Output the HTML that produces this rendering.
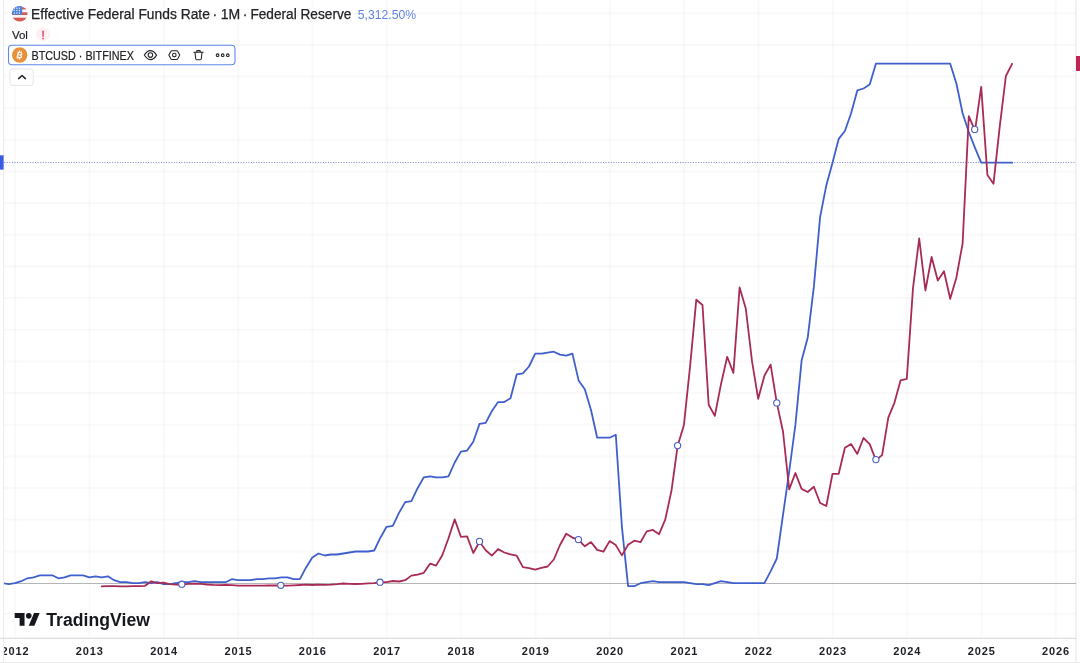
<!DOCTYPE html>
<html><head><meta charset="utf-8"><title>chart</title>
<style>
html,body{margin:0;padding:0;background:#fff;}
body{width:1080px;height:663px;overflow:hidden;position:relative;font-family:"Liberation Sans",sans-serif;color:#131722;}
svg{position:absolute;left:0;top:0;}
.t{position:absolute;white-space:nowrap;}
</style></head><body>
<svg width="1080" height="663" viewBox="0 0 1080 663">
<defs><clipPath id="pc"><rect x="4.1" y="0" width="1071.4" height="663"/></clipPath></defs>
<g stroke="#000" stroke-opacity="0.024" stroke-width="2"><line x1="15.3" y1="0" x2="15.3" y2="638"/><line x1="89.6" y1="0" x2="89.6" y2="638"/><line x1="163.9" y1="0" x2="163.9" y2="638"/><line x1="238.3" y1="0" x2="238.3" y2="638"/><line x1="312.6" y1="0" x2="312.6" y2="638"/><line x1="386.9" y1="0" x2="386.9" y2="638"/><line x1="461.2" y1="0" x2="461.2" y2="638"/><line x1="535.5" y1="0" x2="535.5" y2="638"/><line x1="609.9" y1="0" x2="609.9" y2="638"/><line x1="684.2" y1="0" x2="684.2" y2="638"/><line x1="758.5" y1="0" x2="758.5" y2="638"/><line x1="832.8" y1="0" x2="832.8" y2="638"/><line x1="907.1" y1="0" x2="907.1" y2="638"/><line x1="981.5" y1="0" x2="981.5" y2="638"/><line x1="1055.8" y1="0" x2="1055.8" y2="638"/><line x1="4" y1="13.2" x2="1076" y2="13.2"/><line x1="4" y1="44.9" x2="1076" y2="44.9"/><line x1="4" y1="76.5" x2="1076" y2="76.5"/><line x1="4" y1="108.2" x2="1076" y2="108.2"/><line x1="4" y1="139.8" x2="1076" y2="139.8"/><line x1="4" y1="171.5" x2="1076" y2="171.5"/><line x1="4" y1="203.2" x2="1076" y2="203.2"/><line x1="4" y1="234.8" x2="1076" y2="234.8"/><line x1="4" y1="266.5" x2="1076" y2="266.5"/><line x1="4" y1="298.1" x2="1076" y2="298.1"/><line x1="4" y1="329.8" x2="1076" y2="329.8"/><line x1="4" y1="361.5" x2="1076" y2="361.5"/><line x1="4" y1="393.1" x2="1076" y2="393.1"/><line x1="4" y1="424.8" x2="1076" y2="424.8"/><line x1="4" y1="456.4" x2="1076" y2="456.4"/><line x1="4" y1="488.1" x2="1076" y2="488.1"/><line x1="4" y1="519.8" x2="1076" y2="519.8"/><line x1="4" y1="551.4" x2="1076" y2="551.4"/><line x1="4" y1="613.7" x2="1076" y2="613.7"/></g>
<line x1="3.6" y1="0" x2="3.6" y2="663" stroke="#ebebee" stroke-width="1"/>
<line x1="1075.9" y1="0" x2="1075.9" y2="663" stroke="#ededf0" stroke-width="1.4"/>
<line x1="0" y1="638.4" x2="1076" y2="638.4" stroke="#dedee0" stroke-width="1.1"/>
<rect x="0" y="662" width="1080" height="1" fill="#ececee"/>
<line x1="4" y1="583.5" x2="1076" y2="583.5" stroke="#b4b5ba" stroke-width="1"/>
<line x1="4.2" y1="162.5" x2="1076" y2="162.5" stroke="#5a66c8" stroke-opacity="0.8" stroke-width="1" stroke-dasharray="1 1.57"/>
<rect x="0" y="155.3" width="3.6" height="14.3" fill="#3a5ce2"/>
<rect x="1076" y="56" width="4" height="15" fill="#bb2657"/>
<g clip-path="url(#pc)"><polyline fill="none" stroke="#3f60cc" stroke-width="1.8" stroke-linejoin="round" stroke-linecap="round" points="2.6,583.2 8.8,584.2 15.0,583.2 21.2,581.2 27.4,578.3 33.6,577.3 39.8,575.3 46.0,575.3 52.2,575.3 58.4,578.3 64.5,577.3 70.7,575.3 76.9,575.3 83.1,575.3 89.3,577.3 95.5,576.3 101.7,577.3 107.9,576.3 114.1,580.2 120.3,582.2 126.5,582.2 132.7,583.2 138.9,583.2 145.1,582.2 151.3,583.2 157.4,582.2 163.6,584.2 169.8,584.2 176.0,583.2 182.2,582.2 188.4,582.2 194.6,581.2 200.8,582.2 207.0,582.2 213.2,582.2 219.4,582.2 225.6,582.2 231.8,579.2 238.0,580.2 244.2,580.2 250.3,580.2 256.5,579.2 262.7,579.2 268.9,578.3 275.1,578.3 281.3,577.3 287.5,577.3 293.7,579.2 299.9,579.2 306.1,567.4 312.3,557.5 318.5,553.5 324.7,555.5 330.9,554.5 337.1,554.5 343.2,553.5 349.4,552.5 355.6,551.5 361.8,551.5 368.0,551.5 374.2,550.5 380.4,537.7 386.6,526.8 392.8,525.8 399.0,512.9 405.2,502.1 411.4,501.1 417.6,488.2 423.8,477.3 430.0,476.3 436.1,477.3 442.3,477.3 448.5,476.3 454.7,462.5 460.9,451.6 467.1,450.6 473.3,441.7 479.5,423.9 485.7,422.9 491.9,411.0 498.1,402.1 504.3,402.1 510.5,398.2 516.7,374.4 522.9,373.4 529.0,366.5 535.2,353.6 541.4,353.6 547.6,352.6 553.8,351.7 560.0,354.6 566.2,355.6 572.4,353.6 578.6,380.4 584.8,389.3 591.0,410.0 597.2,437.7 603.4,437.7 609.6,437.7 615.8,434.8 621.9,526.8 628.1,586.2 634.3,586.2 640.5,583.2 646.7,582.2 652.9,581.2 659.1,582.2 665.3,582.2 671.5,582.2 677.7,582.2 683.9,582.2 690.1,583.2 696.3,584.2 702.5,584.2 708.7,585.2 714.8,583.2 721.0,581.2 727.2,582.2 733.4,583.2 739.6,583.2 745.8,583.2 752.0,583.2 758.2,583.2 764.4,583.2 770.6,571.3 776.8,558.5 783.0,514.9 789.2,471.4 795.4,424.9 801.6,360.6 807.7,337.8 813.9,286.4 820.1,217.1 826.3,185.4 832.5,162.7 838.7,138.9 844.9,131.0 851.1,113.2 857.3,90.4 863.5,88.5 869.7,84.5 875.9,63.7 882.1,63.7 888.3,63.7 894.5,63.7 900.6,63.7 906.8,63.7 913.0,63.7 919.2,63.7 925.4,63.7 931.6,63.7 937.8,63.7 944.0,63.7 950.2,63.7 956.4,83.5 962.6,113.2 968.8,132.0 975.0,147.8 981.2,162.7 987.4,162.7 993.5,162.7 999.7,162.7 1005.9,162.7 1012.1,162.7"/>
<polyline fill="none" stroke="#a82b56" stroke-width="1.8" stroke-linejoin="round" stroke-linecap="round" points="101.7,586.3 107.9,586.1 114.1,586.2 120.3,586.3 126.5,586.3 132.7,586.2 138.9,586.2 145.1,585.8 151.3,581.3 157.4,583.2 163.6,582.7 169.8,584.1 176.0,584.6 182.2,584.6 188.4,583.8 194.6,583.7 200.8,583.9 207.0,584.5 213.2,584.9 219.4,585.1 225.6,585.0 231.8,585.2 238.0,585.7 244.2,585.6 250.3,585.6 256.5,585.6 262.7,585.7 268.9,585.5 275.1,585.4 281.3,585.7 287.5,585.6 293.7,585.3 299.9,585.0 306.1,584.7 312.3,585.0 318.5,584.7 324.7,584.8 330.9,584.6 337.1,584.2 343.2,583.5 349.4,583.8 355.6,584.0 361.8,583.8 368.0,583.4 374.2,583.2 380.4,582.1 386.6,582.1 392.8,581.0 399.0,581.5 405.2,580.2 411.4,575.6 417.6,574.7 423.8,572.8 430.0,563.7 436.1,565.6 442.3,555.3 448.5,538.2 454.7,519.4 460.9,536.8 467.1,536.4 473.3,553.0 479.5,541.7 485.7,550.2 491.9,555.6 498.1,549.1 504.3,552.5 510.5,554.4 516.7,555.7 522.9,567.1 529.0,568.1 535.2,569.7 541.4,567.8 547.6,566.5 553.8,559.5 560.0,545.0 566.2,533.8 572.4,537.6 578.6,539.9 584.8,546.3 591.0,542.1 597.2,549.9 603.4,551.7 609.6,541.1 615.8,545.1 621.9,555.4 628.1,544.7 634.3,540.7 640.5,542.2 646.7,531.4 652.9,529.9 659.1,534.2 665.3,519.4 671.5,490.6 677.7,445.4 683.9,425.2 690.1,366.1 696.3,299.7 702.5,305.0 708.7,404.7 714.8,415.9 721.0,384.1 727.2,356.8 733.4,372.9 739.6,287.5 745.8,308.5 752.0,361.2 758.2,398.8 764.4,375.8 770.6,364.6 776.8,402.9 783.0,431.5 789.2,489.4 795.4,473.0 801.6,488.9 807.7,492.0 813.9,486.7 820.1,503.0 826.3,506.0 832.5,473.9 838.7,473.8 844.9,447.8 851.1,444.1 857.3,453.9 863.5,438.0 869.7,444.1 875.9,460.1 882.1,455.1 888.3,417.6 894.5,402.6 900.6,380.3 906.8,378.9 913.0,288.1 919.2,238.5 925.4,290.5 931.6,257.0 937.8,280.6 944.0,271.2 950.2,298.8 956.4,277.5 962.6,243.6 968.8,116.1 975.0,130.7 981.2,86.8 987.4,174.9 993.5,183.7 999.7,126.8 1005.9,76.0 1012.1,63.8"/>
<g fill="#fff" stroke="#4a5cc4" stroke-width="1.1"><circle cx="181.8" cy="584.2" r="3.1"/><circle cx="280.8" cy="585.3" r="3.1"/><circle cx="380.0" cy="582.2" r="3.1"/><circle cx="479.5" cy="541.4" r="3.1"/><circle cx="578.4" cy="539.6" r="3.1"/><circle cx="677.6" cy="445.6" r="3.1"/><circle cx="776.8" cy="402.9" r="3.1"/><circle cx="875.9" cy="459.6" r="3.1"/><circle cx="974.7" cy="129.4" r="3.1"/></g>
<g font-family="Liberation Sans, sans-serif" font-size="11" font-weight="bold" fill="#1d1f25" letter-spacing="0.85"><text x="15.5" y="654.5" text-anchor="middle">2012</text><text x="89.8" y="654.5" text-anchor="middle">2013</text><text x="164.1" y="654.5" text-anchor="middle">2014</text><text x="238.5" y="654.5" text-anchor="middle">2015</text><text x="312.8" y="654.5" text-anchor="middle">2016</text><text x="387.1" y="654.5" text-anchor="middle">2017</text><text x="461.4" y="654.5" text-anchor="middle">2018</text><text x="535.7" y="654.5" text-anchor="middle">2019</text><text x="610.1" y="654.5" text-anchor="middle">2020</text><text x="684.4" y="654.5" text-anchor="middle">2021</text><text x="758.7" y="654.5" text-anchor="middle">2022</text><text x="833.0" y="654.5" text-anchor="middle">2023</text><text x="907.3" y="654.5" text-anchor="middle">2024</text><text x="981.7" y="654.5" text-anchor="middle">2025</text><text x="1056.0" y="654.5" text-anchor="middle">2026</text></g></g>
<g font-family="Liberation Sans, sans-serif">
<!-- flag icon -->
<defs><clipPath id="fc"><circle cx="19.7" cy="13.7" r="7.8"/></clipPath></defs>
<g clip-path="url(#fc)">
<rect x="11" y="5" width="18" height="18" fill="#f6f6f8"/>
<rect x="11" y="7.2" width="18" height="2.2" fill="#d95a52"/>
<rect x="11" y="12.3" width="18" height="2.7" fill="#d95a52"/>
<rect x="11" y="17.7" width="18" height="5" fill="#d95a52"/>
<rect x="11" y="5" width="11.2" height="9.6" fill="#4a80df"/>
<g fill="#e4eeff"><circle cx="14.4" cy="8.2" r=".75"/><circle cx="16.9" cy="8.2" r=".75"/><circle cx="19.4" cy="8.2" r=".75"/><circle cx="14.4" cy="10.6" r=".75"/><circle cx="16.9" cy="10.6" r=".75"/><circle cx="19.4" cy="10.6" r=".75"/><circle cx="14.4" cy="13" r=".75"/><circle cx="16.9" cy="13" r=".75"/><circle cx="19.4" cy="13" r=".75"/></g>
</g>
<text y="18.7" font-size="14" fill="#202226" stroke="#202226" stroke-width="0.25"><tspan x="31.1" textLength="178.8" lengthAdjust="spacingAndGlyphs">Effective Federal Funds Rate</tspan><tspan x="212.6">·</tspan><tspan x="220.7" textLength="19.4" lengthAdjust="spacing">1M</tspan><tspan x="242.8">·</tspan><tspan x="250.4" textLength="101" lengthAdjust="spacingAndGlyphs">Federal Reserve</tspan></text>
<text x="357.8" y="18.6" font-size="12.2" fill="#5f82e6" textLength="58.4" lengthAdjust="spacing">5,312.50%</text>
<text x="12.1" y="38.6" font-size="11.5" fill="#202226" stroke="#202226" stroke-width="0.2" textLength="15.8" lengthAdjust="spacing">Vol</text>
<circle cx="43.2" cy="34.2" r="6.9" fill="#fdeff1"/>
<text x="43.1" y="38.5" font-size="11.5" fill="#cf3557" stroke="#cf3557" stroke-width="0.3" text-anchor="middle">!</text>
<!-- legend box -->
<rect x="8.5" y="45.3" width="226.5" height="19.4" rx="3.5" fill="#fff" stroke="#5f86ea" stroke-width="1.1"/>
<circle cx="19.7" cy="55" r="7.7" fill="#e8913a"/>
<g transform="rotate(13 19.7 55)" fill="#fff"><text x="19.8" y="58.1" font-size="8.6" font-weight="bold" text-anchor="middle">B</text><rect x="18.2" y="50.6" width=".9" height="1.6"/><rect x="20" y="50.6" width=".9" height="1.6"/><rect x="18.2" y="57.9" width=".9" height="1.6"/><rect x="20" y="57.9" width=".9" height="1.6"/></g>
<text x="31.5" y="59.5" font-size="12" fill="#202226" stroke="#202226" stroke-width="0.2" textLength="102.4" lengthAdjust="spacingAndGlyphs">BTCUSD · BITFINEX</text>
<g fill="none" stroke="#202226" stroke-width="1.05" stroke-linejoin="round" stroke-linecap="round">
<!-- eye -->
<path d="M144.3 55.1 C146.2 51.9 148.2 50.6 150.4 50.6 C152.6 50.6 154.6 51.9 156.6 55.1 C154.6 58.3 152.6 59.6 150.4 59.6 C148.2 59.6 146.2 58.3 144.3 55.1 Z"/>
<circle cx="150.4" cy="55.1" r="2.3"/>
<!-- settings -->
<path d="M168.8 55.1 L171 51.2 Q171.3 50.7 171.9 50.7 L176.7 50.7 Q177.3 50.7 177.6 51.2 L179.8 55.1 L177.6 59 Q177.3 59.5 176.7 59.5 L171.9 59.5 Q171.3 59.5 171 59 Z"/>
<circle cx="174.3" cy="55.1" r="1.8"/>
<!-- trash -->
<path d="M193.8 52.2 H203.2 M196.7 52 V51.2 Q196.7 50.6 197.3 50.6 H199.7 Q200.3 50.6 200.3 51.2 V52 M195 52.4 L195.7 58.8 Q195.8 59.8 196.8 59.8 H200.2 Q201.2 59.8 201.3 58.8 L202 52.4"/>
<!-- more -->
<circle cx="217.6" cy="55.2" r="1.35"/><circle cx="222.7" cy="55.2" r="1.35"/><circle cx="227.8" cy="55.2" r="1.35"/>
</g>
<!-- collapse button -->
<rect x="9.9" y="68.8" width="23.4" height="16.6" rx="3" fill="#fff" stroke="#e4e5e9" stroke-width="1"/>
<path d="M18.6 78.6 L22 75.5 L25.4 78.6" fill="none" stroke="#202226" stroke-width="1.5" stroke-linecap="round" stroke-linejoin="round"/>
<!-- TradingView logo -->
<g fill="#15171c" transform="translate(14.7 610.2) scale(0.703)">
<path d="M14 22H7V11H0V4h14v18zM28 22h-8l7.5-18h8L28 22z"/><circle cx="20" cy="8" r="4"/>
</g>
<text x="46.2" y="625.9" font-size="17.6" font-weight="bold" fill="#15171c" textLength="103.8" lengthAdjust="spacing">TradingView</text>
</g>
</svg>
</body></html>
